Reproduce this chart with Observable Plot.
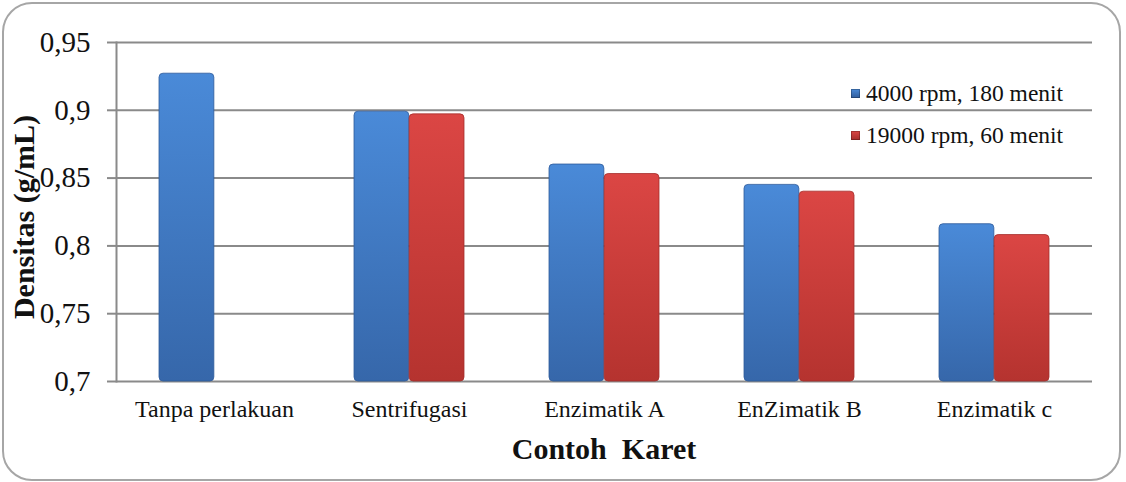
<!DOCTYPE html>
<html>
<head>
<meta charset="utf-8">
<script src="https://cdn.jsdelivr.net/npm/d3@7"></script>
<script src="https://cdn.jsdelivr.net/npm/@observablehq/plot@0.6"></script>
<style>
  html, body { margin: 0; padding: 0; background: #fff; }
  #wrap { position: relative; width: 1126px; height: 482px; overflow: hidden; font-family: "Liberation Serif", "Times New Roman", serif; }
  #border { position: absolute; left: 2px; top: 2px; width: 1115px; height: 475px; border: 2px solid #a6a6a6; border-radius: 30px; pointer-events: none; }
  .ytitle { position: absolute; left: 24px; top: 217px; transform: translate(-50%, -50%) rotate(-90deg); font-weight: bold; font-size: 30px; white-space: pre; color: #111; }
  .xtitle { position: absolute; left: 604px; top: 449px; transform: translate(-50%, -50%); font-weight: bold; font-size: 30px; white-space: pre; color: #111; }
  .legend { position: absolute; left: 851px; font-size: 23.5px; color: #111; white-space: pre; display: flex; align-items: center; }
  .legend .sw { width: 9px; height: 9px; margin-right: 6px; box-shadow: inset 0 0 0 1px rgba(0,0,0,0.25); }
</style>
</head>
<body>
<div id="wrap">
  <div id="chart"></div>
  <div id="border"></div>
</div>
<script>
const categories = ["Tanpa perlakuan", "Sentrifugasi", "Enzimatik A", "EnZimatik B", "Enzimatik c"];
const series = ["4000 rpm, 180 menit", "19000 rpm, 60 menit"];
const values4000 = [0.927, 0.899, 0.860, 0.845, 0.816];
const values19000 = [null, 0.897, 0.853, 0.840, 0.808];
const yTicks = [0.7, 0.75, 0.8, 0.85, 0.9, 0.95];
const xTitle = "Contoh  Karet";
const yTitle = "Densitas (g/mL)";

const blueData = categories.map((c, i) => ({cat: c, v: values4000[i]})).filter(d => d.v != null);
const redData = categories.map((c, i) => ({cat: c, v: values19000[i]})).filter(d => d.v != null);

const W = 1126, H = 482;
const mL = 116, mR = 34, mT = 42, mB = 101;
const padIn = 0.435, padOut = padIn / 2;
const step = (W - mL - mR) / (categories.length - padIn + 2 * padOut);
const bw = step * (1 - padIn);
const half = bw / 2;

const fmt = d => String(+d.toFixed(2)).replace(".", ",");

const plot = Plot.plot({
  width: W,
  height: H,
  marginLeft: mL,
  marginRight: mR,
  marginTop: mT,
  marginBottom: mB,
  style: {fontFamily: "Liberation Serif, Times New Roman, serif", color: "#111", background: "transparent"},
  x: {domain: categories, paddingInner: padIn, paddingOuter: padOut, axis: null},
  y: {domain: [0.7, 0.95], axis: null},
  marks: [
    Plot.ruleY(yTicks, {stroke: "#8a8a8a", strokeWidth: 2}),
    Plot.frame({anchor: "left", stroke: "#8a8a8a", strokeWidth: 2}),
    Plot.axisY({ticks: yTicks, tickFormat: fmt, tickSize: 9, tickPadding: 17, fontSize: 29, stroke: "#8a8a8a", strokeWidth: 2, label: null, color: "#111"}),
    Plot.axisX({tickSize: 0, tickPadding: 18, fontSize: 24, label: null}),
    Plot.barY(blueData, {x: "cat", y1: 0.7, y2: "v", insetRight: half, fill: "url(#gBlue)", stroke: "#2f5b9a", strokeWidth: 0.8, rx: 4}),
    Plot.barY(redData, {x: "cat", y1: 0.7, y2: "v", insetLeft: half, fill: "url(#gRed)", stroke: "#a52d2b", strokeWidth: 0.8, rx: 4})
  ]
});

const defs = d3.select(plot).insert("defs", ":first-child");
function grad(id, top, bottom) {
  const g = defs.append("linearGradient").attr("id", id).attr("x1", 0).attr("y1", 0).attr("x2", 0).attr("y2", 1);
  g.append("stop").attr("offset", "0%").attr("stop-color", top);
  g.append("stop").attr("offset", "100%").attr("stop-color", bottom);
}
grad("gBlue", "#4a8ad8", "#3667aa");
grad("gRed", "#db4644", "#b5332f");

document.getElementById("chart").appendChild(plot);

const wrap = document.getElementById("wrap");
const yt = document.createElement("div"); yt.className = "ytitle"; yt.textContent = yTitle; wrap.appendChild(yt);
const xt = document.createElement("div"); xt.className = "xtitle"; xt.textContent = xTitle; wrap.appendChild(xt);
const legendColors = ["linear-gradient(#4a8ad8,#2f5b9a)", "linear-gradient(#db4644,#a52d2b)"];
const legendY = [93, 135];
series.forEach((s, i) => {
  const el = document.createElement("div");
  el.className = "legend";
  el.style.top = (legendY[i] - 14) + "px";
  el.style.height = "28px";
  const sw = document.createElement("span"); sw.className = "sw"; sw.style.background = legendColors[i];
  const tx = document.createElement("span"); tx.textContent = s;
  el.appendChild(sw); el.appendChild(tx);
  wrap.appendChild(el);
});
</script>
</body>
</html>
